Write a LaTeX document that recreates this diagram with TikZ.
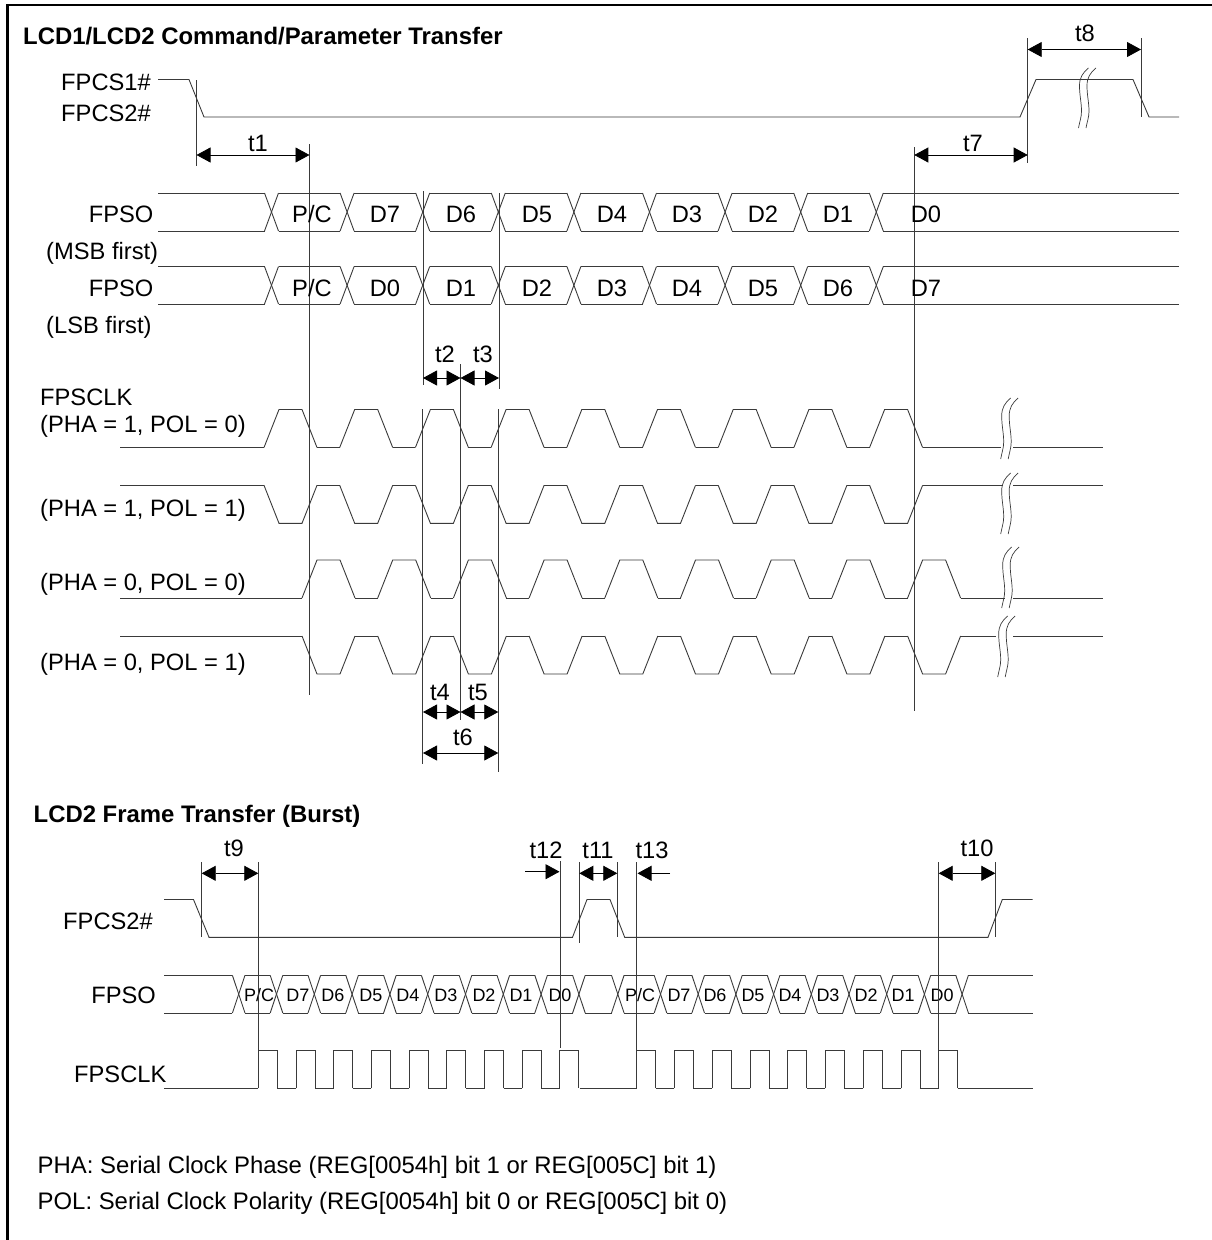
\documentclass[tikz,border=0pt]{standalone}
\usepackage{fontspec}
\setmainfont{Liberation Sans}
\usetikzlibrary{arrows.meta}
\definecolor{ln}{HTML}{3A3A3A}
\tikzset{
  sig/.style={ln,line width=0.9pt,line join=miter},
  guide/.style={ln,line width=0.9pt},
  dim/.style={black,line width=0.8pt,{Triangle[length=14pt,width=15pt]}-{Triangle[length=14pt,width=15pt]}},
  dimr/.style={black,line width=0.8pt,-{Triangle[length=14pt,width=15pt]}},
  lab/.style={inner sep=0pt,font=\fontsize{23.7pt}{23.7pt}\selectfont},
  labw/.style={lab,anchor=base west},
  labe/.style={lab,anchor=base east},
  labc/.style={lab,anchor=base},
  small/.style={inner sep=0pt,anchor=base,font=\fontsize{18pt}{18pt}\selectfont},
  note/.style={inner sep=0pt,anchor=base west,font=\fontsize{23.9pt}{23.9pt}\selectfont},
  ttl/.style={inner sep=0pt,anchor=base west,font=\bfseries\fontsize{23.9pt}{23.9pt}\selectfont},
  brkline/.style={ln,line width=0.7pt}
}
% break mark: #1 x offset, #2 y of top end, #3 total height
\newcommand{\brkmark}[3]{%
  \begin{scope}[shift={(#1,#2)},yscale=#3/61]
  \foreach \dx in {0,7.5}{
    \draw[brkline] (\dx,0) .. controls (\dx-6,5) and (\dx-9,10) .. (\dx-9,18)
      .. controls (\dx-9,28) and (\dx-7,35) .. (\dx-7,44)
      .. controls (\dx-7,50) and (\dx-9,55) .. (\dx-10,61);
  }
  \end{scope}}
% FPSO bus row: #1 top y, #2 bottom y
\newcommand{\busrow}[2]{%
  \draw[sig] (158,#1) -- (264.5,#1);
  \draw[sig] (158,#2) -- (264.5,#2);
  \foreach \i in {0,...,8}{
    \pgfmathsetmacro{\cc}{271.5+75.6*\i}
    \draw[sig] (\cc-7,#1) -- (\cc+7,#2);
    \draw[sig] (\cc-7,#2) -- (\cc+7,#1);
  }
  \foreach \i in {0,...,7}{
    \pgfmathsetmacro{\aa}{271.5+75.6*\i+7}
    \pgfmathsetmacro{\bb}{271.5+75.6*(\i+1)-7}
    \draw[sig] (\aa,#1) -- (\bb,#1);
    \draw[sig] (\aa,#2) -- (\bb,#2);
  }
  \draw[sig] (883.3,#1) -- (1179,#1);
  \draw[sig] (883.3,#2) -- (1179,#2);}
% trapezoid clock: #1 first rise x, #2 start-level y, #3 pulse-level y
\newcommand{\clockwave}[3]{%
  \foreach \k in {0,...,8}{
    \pgfmathsetmacro{\rr}{#1+75.7*\k}
    \draw[sig] (\rr,#2) -- (\rr+15,#3) -- (\rr+38,#3) -- (\rr+53,#2);
    \ifnum\k<8
      \draw[sig] (\rr+53,#2) -- (\rr+75.7,#2);
    \fi
  }}
% burst bus cross: #1 centre
\newcommand{\burstcross}[1]{%
  \draw[sig] (#1-6.3,975.3) -- (#1+6.3,1013);
  \draw[sig] (#1-6.3,1013) -- (#1+6.3,975.3);}
\begin{document}
\begin{tikzpicture}[x=1pt,y=-1pt]
\useasboundingbox (0,0) rectangle (1212,1240);
% frame
\draw[black,line width=2.2pt] (7.5,1240) -- (7.5,5) -- (1212,5);
% titles
\node[ttl] (title1) at (23,44.3) {LCD1/LCD2 Command/Parameter Transfer};
\node[ttl] (title2) at (33.5,822.7) {LCD2 Frame Transfer (Burst)};
% ---------- FPCS
\draw[sig] (158,79.5) -- (189,79.5) -- (204,117) -- (1020,117) -- (1036,79.5) -- (1133,79.5) -- (1149,117) -- (1179,117);
\brkmark{1088.5}{68}{60}
\node[labe] (fpcsa) at (151,90) {FPCS1\#};
\node[labe] (fpcsb) at (151,121) {FPCS2\#};
% guides upper
\draw[guide] (196.5,80) -- (196.5,166);
\draw[guide] (309.5,144) -- (309.5,695);
\draw[guide] (423,191) -- (423,385);
\draw[guide] (499,193) -- (499,389);
\draw[guide] (460.5,364) -- (460.5,720);
\draw[guide] (422.5,409) -- (422.5,764);
\draw[guide] (498.3,409) -- (498.3,772);
\draw[guide] (914.3,147) -- (914.3,711);
\draw[guide] (1027.7,38) -- (1027.7,163);
\draw[guide] (1141,38) -- (1141,117);
% dims upper
\draw[dim] (196.5,155) -- (309.5,155);
\node[labc] (t1) at (258,151.7) {t1};
\draw[dim] (914.3,155) -- (1027.7,155);
\node[labc] (t7) at (973,151.7) {t7};
\draw[dim] (1027.7,49.5) -- (1141,49.5);
\node[labc] (t8) at (1085,41.5) {t8};
\draw[dim] (423,378) -- (460.5,378);
\draw[dim] (460.5,378) -- (499,378);
\node[labc] (t2) at (445,362.7) {t2};
\node[labc] (t3) at (483,362.7) {t3};
\draw[dim] (423,712) -- (460.5,712);
\draw[dim] (460.5,712) -- (498.3,712);
\node[labc] (t4) at (440,700) {t4};
\node[labc] (t5) at (478,700) {t5};
\draw[dim] (423,753) -- (498.3,753);
\node[labc] (t6) at (463,745) {t6};
% ---------- FPSO rows
\busrow{193}{231}
\busrow{266.5}{304}
\node[labe] (so1) at (153.5,222.7) {FPSO};
\node[labw] (msb) at (46,259) {(MSB first)};
\node[labe] (so2) at (153.5,296) {FPSO};
\node[labw] (lsb) at (46,333) {(LSB first)};
\foreach \txt/\x/\nm in {{P/C}/312/a,D7/385/b,D6/461/c,D5/537/d,D4/612/e,D3/687/f,D2/763/g,D1/838/h,D0/926/i}{
  \node[labc] (m\nm) at (\x,222.7) {\txt};
}
\foreach \txt/\x/\nm in {{P/C}/312/a,D0/385/b,D1/461/c,D2/537/d,D3/612/e,D4/687/f,D5/763/g,D6/838/h,D7/926/i}{
  \node[labc] (l\nm) at (\x,296) {\txt};
}
% ---------- FPSCLK trapezoids
\draw[sig] (120,447.5) -- (264,447.5);
\clockwave{264}{447.5}{409.5}
\draw[sig] (922.6,447.5) -- (1001,447.5);
\draw[sig] (1013,447.5) -- (1103,447.5);
\brkmark{1010.7}{398}{61}
\draw[sig] (120,485.3) -- (264,485.3);
\clockwave{264}{485.3}{523.3}
\draw[sig] (922.6,485.3) -- (1003,485.3);
\draw[sig] (1013,485.3) -- (1103,485.3);
\brkmark{1010.7}{473}{61}
\draw[sig] (120,598) -- (302,598);
\clockwave{302}{598}{560}
\draw[sig] (960.6,598) -- (1005,598);
\draw[sig] (1013,598) -- (1103,598);
\brkmark{1011.7}{547}{61}
\draw[sig] (120,636) -- (302,636);
\clockwave{302}{636}{674}
\draw[sig] (960.6,636) -- (996,636);
\draw[sig] (1013,636) -- (1103,636);
\brkmark{1007.7}{616}{61}
\node[labw] (clk) at (40,405.7) {FPSCLK};
\node[labw] (p10) at (40,432.3) {(PHA = 1, POL = 0)};
\node[labw] (p11) at (40,516.7) {(PHA = 1, POL = 1)};
\node[labw] (p00) at (40,590) {(PHA = 0, POL = 0)};
\node[labw] (p01) at (40,670.7) {(PHA = 0, POL = 1)};
% ---------- Burst FPCS2#
\draw[sig] (164,899.5) -- (193.5,899.5) -- (209,937.3) -- (572.5,937.3) -- (587,899.5) -- (610,899.5) -- (624.7,937.3) -- (988,937.3) -- (1002.3,899.5) -- (1032.7,899.5);
\node[labe] (b1) at (153,929.3) {FPCS2\#};
% burst FPSO
\draw[sig] (164,975.3) -- (232.4,975.3);
\draw[sig] (164,1013) -- (232.4,1013);
\foreach \i in {0,...,9}{
  \pgfmathsetmacro{\cc}{238.7+37.8*\i}
  \burstcross{\cc}
  \ifnum\i<9
    \pgfmathsetmacro{\aa}{\cc+6.3}
    \pgfmathsetmacro{\bb}{\cc+37.8-6.3}
    \draw[sig] (\aa,975.3) -- (\bb,975.3);
    \draw[sig] (\aa,1013) -- (\bb,1013);
  \fi
}
\draw[sig] (585.2,975.3) -- (611.5,975.3);
\draw[sig] (585.2,1013) -- (611.5,1013);
\burstcross{617.8}
\draw[sig] (624.1,975.3) -- (654.2,975.3);
\draw[sig] (624.1,1013) -- (654.2,1013);
\foreach \i in {0,...,8}{
  \pgfmathsetmacro{\cc}{660.5+37.7*\i}
  \burstcross{\cc}
  \ifnum\i<8
    \pgfmathsetmacro{\aa}{\cc+6.3}
    \pgfmathsetmacro{\bb}{\cc+37.7-6.3}
    \draw[sig] (\aa,975.3) -- (\bb,975.3);
    \draw[sig] (\aa,1013) -- (\bb,1013);
  \fi
}
\draw[sig] (968.4,975.3) -- (1032.7,975.3);
\draw[sig] (968.4,1013) -- (1032.7,1013);
\node[labe] (b2) at (156,1003.3) {FPSO};
\foreach \txt/\x/\nm in {{P/C}/259/a,D7/298/b,D6/333/c,D5/371/d,D4/408/e,D3/446/f,D2/484/g,D1/521/h,D0/560/i,{P/C}/640/j,D7/679/k,D6/715/l,D5/753/m,D4/790/n,D3/828/o,D2/866/p,D1/903/q,D0/942/r}{
  \node[small] (s\nm) at (\x,1001.7) {\txt};
}
% burst clock
\draw[sig] (164,1088.3) -- (258.3,1088.3);
\foreach \k in {0,...,8}{
  \pgfmathsetmacro{\rr}{258.3+37.7*\k}
  \draw[sig] (\rr,1088.3) -- (\rr,1050.3) -- (\rr+19,1050.3) -- (\rr+19,1088.3);
  \ifnum\k<8 \draw[sig] (\rr+19,1088.3) -- (\rr+37.7,1088.3); \fi
}
\draw[sig] (579.6,1088.3) -- (636.7,1088.3);
\foreach \k in {0,...,8}{
  \pgfmathsetmacro{\rr}{636.7+37.75*\k}
  \draw[sig] (\rr,1088.3) -- (\rr,1050.3) -- (\rr+19,1050.3) -- (\rr+19,1088.3);
  \ifnum\k<8 \draw[sig] (\rr+19,1088.3) -- (\rr+37.75,1088.3); \fi
}
\draw[sig] (957.7,1088.3) -- (1032.7,1088.3);
\node[labw] (b3) at (74,1082.7) {FPSCLK};
% burst guides + dims
\draw[guide] (201.7,862) -- (201.7,937);
\draw[guide] (258.3,862) -- (258.3,1088);
\draw[guide] (560.3,861) -- (560.3,1048);
\draw[guide] (579.3,862) -- (579.3,943);
\draw[guide] (617.3,862) -- (617.3,937);
\draw[guide] (636.7,862) -- (636.7,1088);
\draw[guide] (938.7,862) -- (938.7,1088);
\draw[guide] (995.3,862) -- (995.3,937);
\draw[dim] (201.7,873.3) -- (258.3,873.3);
\node[labc] (t9) at (234,856.7) {t9};
\draw[dimr] (525,871.7) -- (559.5,871.7);
\node[labc] (t12) at (546,858) {t12};
\draw[dim] (579.3,873.3) -- (617.3,873.3);
\node[labc] (t11) at (598,858) {t11};
\draw[dimr] (670,873.3) -- (637.5,873.3);
\node[labc] (t13) at (652,858) {t13};
\draw[dim] (938.7,873.3) -- (995.3,873.3);
\node[labc] (t10) at (977,856.7) {t10};
% notes
\node[note] (n1) at (37.5,1173) {PHA: Serial Clock Phase (REG[0054h] bit 1 or REG[005C] bit 1)};
\node[note] (n2) at (37.5,1209) {POL: Serial Clock Polarity (REG[0054h] bit 0 or REG[005C] bit 0)};
\end{tikzpicture}
\end{document}
